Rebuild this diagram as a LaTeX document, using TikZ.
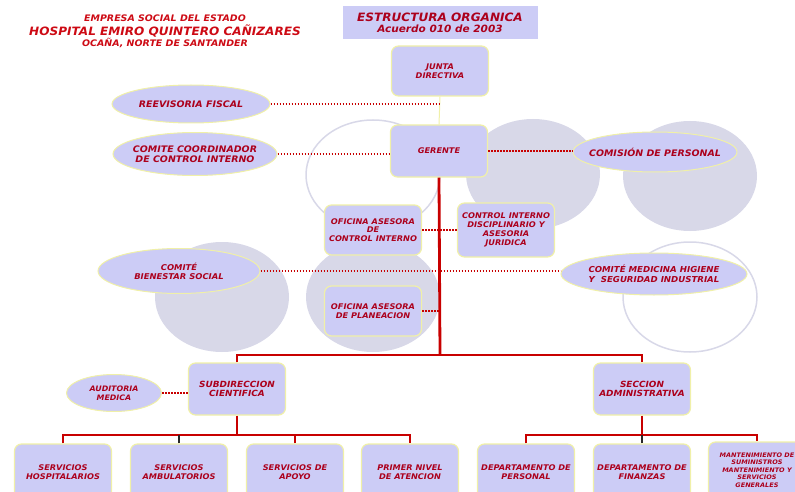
\documentclass[tikz,border=0pt]{standalone}
\usepackage{fontspec}
\setmainfont[FakeStretch=1.05]{DejaVu Sans}
\usetikzlibrary{shapes.geometric,backgrounds}
\definecolor{boxfill}{RGB}{204,204,246}
\definecolor{boxedge}{RGB}{240,240,168}
\definecolor{ghostfill}{RGB}{216,216,232}
\definecolor{labelred}{RGB}{172,0,28}
\definecolor{headred}{RGB}{205,10,20}
\definecolor{linered}{RGB}{200,0,0}

\begin{document}
\begin{tikzpicture}
    [x=1pt,y=-1pt,
      box/.style={draw=boxedge,line width=1.2pt,fill=boxfill,rounded corners=7pt,
        minimum width=97pt,minimum height=50pt,inner sep=1pt,align=center,
        text=labelred,font=\bfseries\itshape\fontsize{7.8}{8.8}\selectfont},
      bubble/.style={ellipse,draw=boxedge,line width=1pt,fill=boxfill,inner xsep=-20pt,inner ysep=0pt,
        align=center,text=labelred,font=\bfseries\itshape\fontsize{9}{10}\selectfont},
      dotline/.style={draw=linered,line width=1.3pt,dash pattern=on 1.6pt off 1.4pt},
      orgline/.style={draw=linered,line width=2.8pt},
      stub/.style={draw=black!85,line width=2.8pt},
      ghost/.style={ellipse,fill=ghostfill,minimum width=134pt,minimum height=110pt},
      ring/.style={ellipse,draw=ghostfill,line width=1.5pt,fill=white,minimum width=134pt,minimum height=110pt},
      header/.style={text=headred,font=\bfseries\itshape\fontsize{#1}{#1}\selectfont}
    ]
    \clip (0,0) rectangle (795,492);

    \node [header=9] (hdrtop) at (165,18) {EMPRESA SOCIAL DEL ESTADO};
    \node [header=11.5] (hdrhosp) at (165,31) {HOSPITAL EMIRO QUINTERO CAÑIZARES};
    \node [header=9] (hdrcity) at (165,43) {OCAÑA, NORTE DE SANTANDER};

    \node [fill=boxfill,minimum width=195pt,minimum height=33pt,inner sep=0pt,align=center,
      text=labelred,font=\bfseries\itshape] (titulo) at (440,23)
      {{\fontsize{11.5}{12}\selectfont ESTRUCTURA ORGANICA}\\[-1pt]
       {\fontsize{10}{11}\selectfont Acuerdo 010 de 2003}};

    \node [box] (junta) at (440,71) {JUNTA\\DIRECTIVA};
    \node [box,minimum height=52pt] (gerente) at (439,151) {GERENTE};
    \node [box] (ofcontrol) at (373,230) {OFICINA ASESORA\\DE\\CONTROL INTERNO};
    \node [box,minimum height=54pt] (juridica) at (506,230) {CONTROL INTERNO\\DISCIPLINARIO Y\\ASESORIA\\JURIDICA};
    \node [box] (planea) at (373,311) {OFICINA ASESORA\\DE PLANEACION};
    \node [box,minimum height=52pt,font=\bfseries\itshape\fontsize{8.5}{9.5}\selectfont] (subdir) at (237,389) {SUBDIRECCION\\CIENTIFICA};
    \node [box,minimum height=52pt,font=\bfseries\itshape\fontsize{8.5}{9.5}\selectfont] (seccion) at (642,389) {SECCION\\ADMINISTRATIVA};

    \node [box,minimum height=56pt] (hospital) at (63,472) {SERVICIOS\\HOSPITALARIOS};
    \node [box,minimum height=56pt] (ambul) at (179,472) {SERVICIOS\\AMBULATORIOS};
    \node [box,minimum height=56pt] (apoyo) at (295,472) {SERVICIOS DE\\APOYO};
    \node [box,minimum height=56pt] (primer) at (410,472) {PRIMER NIVEL\\DE ATENCION};
    \node [box,minimum height=56pt] (personal) at (526,472) {DEPARTAMENTO DE\\PERSONAL};
    \node [box,minimum height=56pt] (finanzas) at (642,472) {DEPARTAMENTO DE\\FINANZAS};
    \node [box,minimum height=56pt,font=\bfseries\itshape\fontsize{6.2}{7.4}\selectfont] (mantenim) at (757,470)
      {MANTENIMIENTO DE\\SUMINISTROS\\MANTENIMIENTO Y\\SERVICIOS\\GENERALES};

    \node [bubble,minimum width=158pt,minimum height=38pt] (fiscal) at (191,104) {REEVISORIA FISCAL};
    \node [bubble,minimum width=164pt,minimum height=43pt] (coordinador) at (195,154) {COMITE COORDINADOR\\DE CONTROL INTERNO};
    \node [bubble,minimum width=164pt,minimum height=40pt] (comision) at (655,152) {COMISIÓN DE PERSONAL};
    \node [bubble,minimum width=162pt,minimum height=45pt,font=\bfseries\itshape\fontsize{8}{9}\selectfont] (bienestar) at (179,271) {COMITÉ\\BIENESTAR SOCIAL};
    \node [bubble,minimum width=186pt,minimum height=42pt,font=\bfseries\itshape\fontsize{8.2}{10}\selectfont] (medicina) at (654,274)
      {COMITÉ MEDICINA HIGIENE\\Y\ \ SEGURIDAD INDUSTRIAL};
    \node [bubble,minimum width=95pt,minimum height=37pt,font=\bfseries\itshape\fontsize{7.5}{8.7}\selectfont] (auditoria) at (114,393) {AUDITORIA\\MEDICA};

    \coordinate (mainbus) at (440,355);
    \coordinate (leftbus) at (237,435);
    \coordinate (rightbus) at (642,435);

    \draw [draw=boxedge,line width=1pt] (junta.south) -- (gerente.north);
    \draw [dotline] (fiscal.east) -- (fiscal.east -| junta.south);
    \draw [dotline] (coordinador.east) -- (coordinador.east -| gerente.west);
    \draw [dotline] (gerente.east) -- (gerente.east -| comision.west);
    \draw [dotline] (ofcontrol.east) -- (juridica.west);
    \draw [dotline] (bienestar.east) -- (bienestar.east -| medicina.west);
    \draw [dotline] (planea.east) -- (planea.east -| gerente.south);
    \draw [dotline] (auditoria.east) -- (auditoria.east -| subdir.west);

    \draw [orgline] (gerente.south) -- (mainbus);
    \draw [orgline] (subdir.north) |- (mainbus) -| (seccion.north);
    \draw [orgline] (subdir.south) -- (leftbus);
    \draw [orgline] (hospital.north) |- (leftbus) -| (primer.north);
    \draw [stub] (ambul.north) -- (ambul.north |- leftbus);
    \draw [orgline] (apoyo.north) -- (apoyo.north |- leftbus);
    \draw [orgline] (seccion.south) -- (rightbus);
    \draw [orgline] (personal.north) |- (rightbus) -| (mantenim.north);
    \draw [stub] (finanzas.north) -- (rightbus);

    \begin{scope}[on background layer]
      \node [ring] (ringnw) at (373,175) {};
      \node [ghost] (ghostn) at (533,174) {};
      \node [ghost] (ghostne) at (690,176) {};
      \node [ghost] (ghostsw) at (222,297) {};
      \node [ghost] (ghosts) at (373,297) {};
      \node [ring] (ringse) at (690,297) {};
    \end{scope}
\end{tikzpicture}
\end{document}
